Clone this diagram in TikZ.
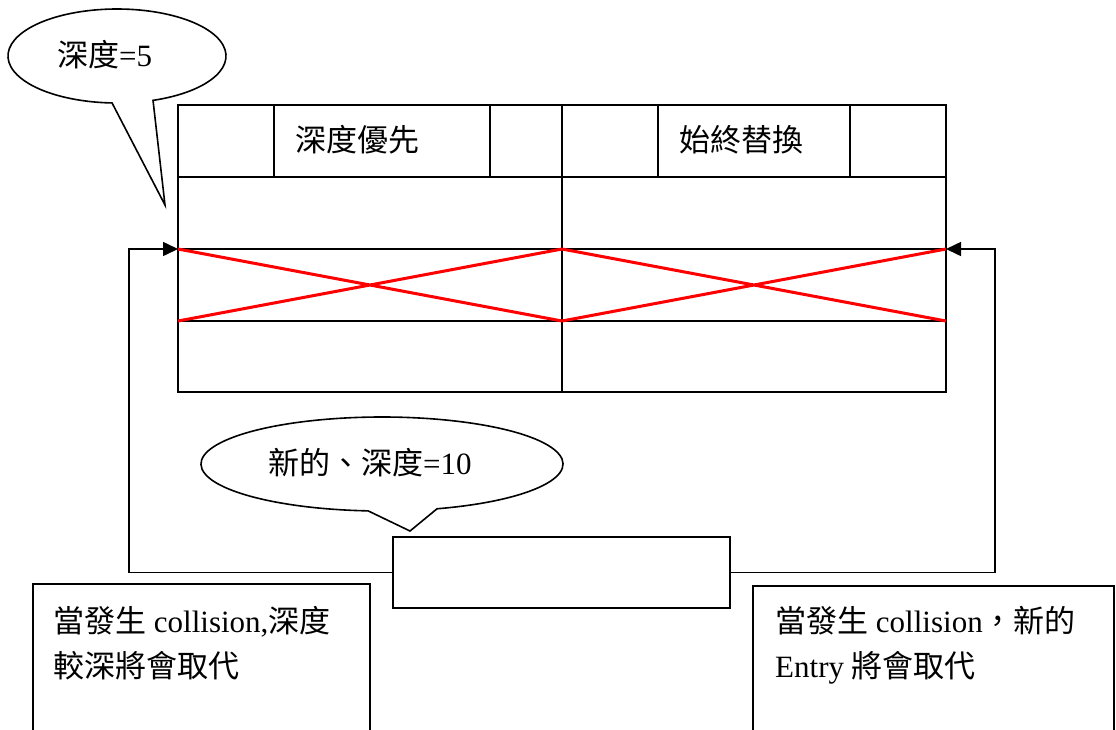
\documentclass[tikz,border=0pt]{standalone}
\usepackage{fontspec}
\setmainfont{Liberation Serif}
\newfontfamily\cjk{Noto Sans CJK TC}
\usetikzlibrary{arrows.meta}
\tikzset{
  ln/.style={line width=1.6pt, line join=miter},
  redx/.style={draw=red, line width=3pt},
  arr/.style={ln, -{Triangle[length=15pt,width=14pt]}},
  txt/.style={inner sep=0pt, anchor=west, font=\fontsize{31}{45}\selectfont},
  mtxt/.style={inner sep=0pt, anchor=north west, align=left, font=\fontsize{31}{45}\selectfont},
  boxn/.style={ln, draw, fill=white, inner sep=0pt}
}
\begin{document}
\begin{tikzpicture}[x=1pt,y=1pt]
\useasboundingbox (0,0) rectangle (1116,-729);
% callout 1
\draw[ln, fill=white] (117,-56) ++(289.3:109 and 47) arc[start angle=289.3, end angle=627.4, x radius=109, y radius=47] -- (165,-205) -- cycle;
\node[txt] (c1t) at (57,-55) {{\cjk 深度}=5};
% table
\draw[ln] (178,-105) rectangle (946,-392);
\foreach \yy in {177,249,321} \draw[ln] (178,-\yy) -- (946,-\yy);
\draw[ln] (562,-105) -- (562,-392);
\draw[ln] (274,-105) -- (274,-177) (490,-105) -- (490,-177);
\draw[ln] (658,-105) -- (658,-177) (850,-105) -- (850,-177);
\node[txt] (h1) at (295,-140) {\cjk 深度優先};
\node[txt] (h2) at (679,-140) {\cjk 始終替換};
\coordinate (tl) at (178,-249);
\coordinate (tr) at (946,-249);
\coordinate (bl) at (178,-321);
\coordinate (br) at (946,-321);
\coordinate (ml) at (562,-249);
\coordinate (mb) at (562,-321);
\draw[redx] (tl) -- (mb) (bl) -- (ml);
\draw[redx] (ml) -- (br) (mb) -- (tr);
% bottom box
\node[boxn, minimum width=337pt, minimum height=71pt] (bot) at (561.5,-572.5) {};
\draw[arr] (bot.west) -- ++(-263.5,0) |- (tl);
\draw[arr] (bot.east) -- ++(264,0) |- (tr);
% callout 2
\draw[ln, fill=white] (382,-464) ++(287.7:181 and 47) arc[start angle=287.7, end angle=625.6, x radius=181, y radius=47] -- (410,-531) -- cycle;
\node[txt] (c2t) at (268,-463) {{\cjk 新的、深度}=10};
% text boxes
\draw[ln] (33,-740) |- (370,-584) -- (370,-740);
\draw[ln] (753,-740) |- (1114,-586) -- (1114,-740);
\node[mtxt] (lt) at (53,-606) {{\cjk 當發生} collision,{\cjk 深度}\\{\cjk 較深將會取代}};
\node[mtxt] (rt) at (775,-606) {{\cjk 當發生} collision{\cjk ，新的}\\Entry {\cjk 將會取代}};
\end{tikzpicture}
\end{document}
